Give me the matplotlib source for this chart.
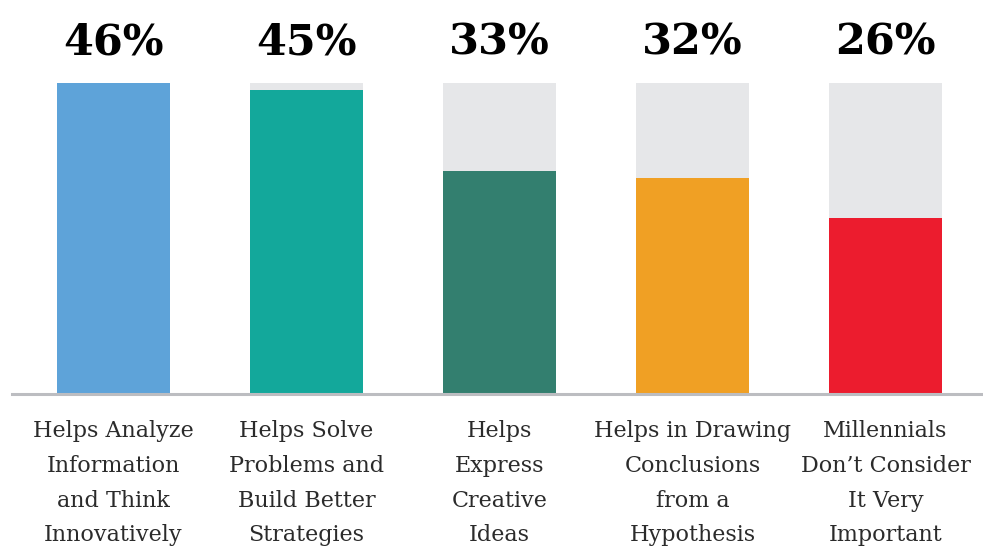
import matplotlib.pyplot as plt

categories = [
    "Helps Analyze\nInformation\nand Think\nInnovatively",
    "Helps Solve\nProblems and\nBuild Better\nStrategies",
    "Helps\nExpress\nCreative\nIdeas",
    "Helps in Drawing\nConclusions\nfrom a\nHypothesis",
    "Millennials\nDon\u2019t Consider\nIt Very\nImportant",
]
values = [46, 45, 33, 32, 26]
colors = ["#5ea3d9", "#13a89b", "#337f6f", "#f0a024", "#ec1c2e"]

fig = plt.figure(figsize=(9.83, 5.54), dpi=100)
ax = fig.add_axes([12 / 983, 1 - 394 / 554, 971 / 983, (394 - 83) / 554])

x = range(len(values))
top = max(values)
ax.bar(x, [top] * len(values), width=0.585, color="#e6e7e9", zorder=1)
ax.bar(x, values, width=0.585, color=colors, zorder=2)

ax.set_xlim(-0.526, 4.505)
ax.set_ylim(0, top)
for s in ["top", "right", "left"]:
    ax.spines[s].set_visible(False)
ax.spines["bottom"].set_color("#bcbdc1")
ax.spines["bottom"].set_linewidth(2.2)
ax.spines["bottom"].set_zorder(3)
ax.set_yticks([])
ax.set_xticks([])

for i, v in enumerate(values):
    ax.text(i, top + 6.0, f"{v}%", ha="center", va="center",
            fontsize=31, fontweight="bold", family="DejaVu Serif", color="#000000")
    ax.text(i, -3.9, categories[i], ha="center", va="top",
            fontsize=16, family="DejaVu Serif", color="#2b2b2b", linespacing=1.74)

fig.savefig("out.png", dpi=100)
